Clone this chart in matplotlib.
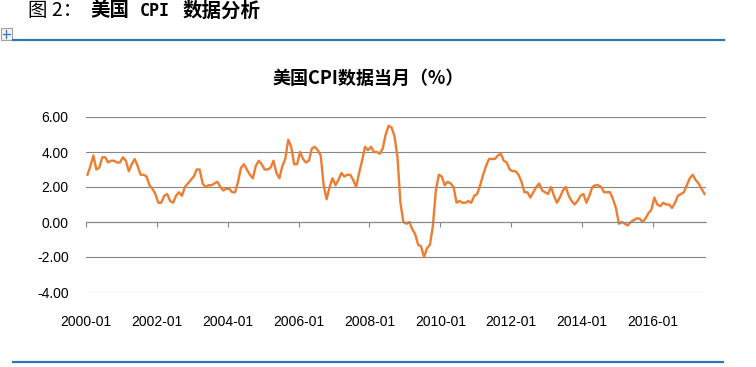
import matplotlib
matplotlib.use('Agg')
import matplotlib.pyplot as plt
from matplotlib.lines import Line2D
from matplotlib.patches import Rectangle
from matplotlib.ticker import FormatStrFormatter
import numpy as np

# US CPI, year over year (%), monthly 2000-01 .. 2017-06
cpi_2000 = [2.7, 3.2, 3.8, 3.0, 3.1, 3.7, 3.7, 3.4, 3.5, 3.5, 3.4, 3.4]
cpi_2001 = [3.7, 3.5, 2.9, 3.3, 3.6, 3.2, 2.7, 2.7, 2.6, 2.1, 1.9, 1.6]
cpi_2002 = [1.1, 1.1, 1.5, 1.6, 1.2, 1.1, 1.5, 1.7, 1.5, 2.0, 2.2, 2.4]
cpi_2003 = [2.6, 3.0, 3.0, 2.2, 2.0, 2.1, 2.1, 2.2, 2.3, 2.0, 1.8, 1.9]
cpi_2004 = [1.9, 1.7, 1.7, 2.3, 3.1, 3.3, 3.0, 2.7, 2.5, 3.2, 3.5, 3.3]
cpi_2005 = [3.0, 3.0, 3.1, 3.5, 2.8, 2.5, 3.2, 3.6, 4.7, 4.3, 3.3, 3.3]
cpi_2006 = [4.0, 3.6, 3.4, 3.5, 4.2, 4.3, 4.1, 3.8, 2.1, 1.3, 2.0, 2.5]
cpi_2007 = [2.1, 2.4, 2.8, 2.6, 2.7, 2.7, 2.4, 2.0, 2.8, 3.5, 4.3, 4.1]
cpi_2008 = [4.3, 4.0, 4.0, 3.9, 4.2, 5.0, 5.5, 5.4, 4.9, 3.7, 1.1, 0.0]
cpi_2009 = [-0.1, 0.0, -0.4, -0.7, -1.3, -1.4, -2.0, -1.5, -1.3, -0.2, 1.8, 2.7]
cpi_2010 = [2.6, 2.1, 2.3, 2.2, 2.0, 1.1, 1.2, 1.1, 1.1, 1.2, 1.1, 1.5]
cpi_2011 = [1.6, 2.1, 2.7, 3.2, 3.6, 3.6, 3.6, 3.8, 3.9, 3.5, 3.4, 3.0]
cpi_2012 = [2.9, 2.9, 2.7, 2.3, 1.7, 1.7, 1.4, 1.7, 2.0, 2.2, 1.8, 1.7]
cpi_2013 = [1.6, 2.0, 1.5, 1.1, 1.4, 1.8, 2.0, 1.5, 1.2, 1.0, 1.2, 1.5]
cpi_2014 = [1.6, 1.1, 1.5, 2.0, 2.1, 2.1, 2.0, 1.7, 1.7, 1.7, 1.3, 0.8]
cpi_2015 = [-0.1, 0.0, -0.1, -0.2, 0.0, 0.1, 0.2, 0.2, 0.0, 0.2, 0.5, 0.7]
cpi_2016 = [1.4, 1.0, 0.9, 1.1, 1.0, 1.0, 0.8, 1.1, 1.5, 1.6, 1.7, 2.1]
cpi_2017 = [2.5, 2.7, 2.4, 2.2, 1.9, 1.6]

cpi = (cpi_2000 + cpi_2001 + cpi_2002 + cpi_2003 + cpi_2004 + cpi_2005 +
       cpi_2006 + cpi_2007 + cpi_2008 + cpi_2009 + cpi_2010 + cpi_2011 +
       cpi_2012 + cpi_2013 + cpi_2014 + cpi_2015 + cpi_2016 + cpi_2017)
months = ['%d-%02d' % (2000 + i // 12, i % 12 + 1) for i in range(len(cpi))]

tick_labels = ['2000-01', '2002-01', '2004-01', '2006-01', '2008-01',
               '2010-01', '2012-01', '2014-01', '2016-01']
y_ticks = [-4, -2, 0, 2, 4, 6]

chart_title = '美国CPI数据当月（%）'

W, H = 756, 367
cjk = ['Noto Sans CJK SC', 'DejaVu Sans']
blue = '#2E75B6'
orange = '#ED7D31'
grey = '#868686'

plt.rcParams['font.family'] = ['Liberation Sans', 'DejaVu Sans']

fig = plt.figure(figsize=(W / 100, H / 100), dpi=100)

def fx(px):
    return px / W

def fy(py):
    return 1 - py / H

# page header: "图 2：美国 CPI 数据分析" (pieces placed to mimic the wide latin font)
fig.text(fx(28), fy(11), '图 2：', family=cjk, fontsize=14, va='center', ha='left')
fig.text(fx(90), fy(11), '美国', family=cjk, fontsize=14, weight='bold',
         va='center', ha='left')
fig.text(fx(140), fy(11.5), 'CPI', family='DejaVu Sans Mono', fontsize=12,
         weight='bold', va='center', ha='left')
fig.text(fx(183), fy(11), '数据分析', family=cjk, fontsize=14, weight='bold',
         va='center', ha='left')
fig.add_artist(Line2D([fx(13), fx(724)], [fy(40), fy(40)], color=blue, lw=1.6))
fig.add_artist(Line2D([fx(13), fx(723)], [fy(362), fy(362)], color=blue, lw=1.6))

# little move handle at top left
fig.add_artist(Rectangle((fx(0.5), fy(40)), fx(11), 12 / H, facecolor='#f4f4f4',
                         edgecolor='#a0a0a0', lw=0.8))
fig.add_artist(Line2D([fx(2.5), fx(10)], [fy(34), fy(34)], color='#3a6fc4', lw=0.9))
fig.add_artist(Line2D([fx(6.2), fx(6.2)], [fy(30), fy(38)], color='#3a6fc4', lw=0.9))

fig.text(fx(368), fy(78), chart_title, family=cjk, fontsize=13, weight='bold',
         ha='center', va='center')

ax = fig.add_axes([fx(86), fy(292), fx(620), 175 / H])
x = np.arange(len(cpi))
ax.plot(x, cpi, color=orange, lw=1.7, solid_joinstyle='round')

ax.set_xlim(-0.5, len(cpi) - 0.5)
ax.set_ylim(-4, 6)
ax.set_yticks(y_ticks)
ax.yaxis.set_major_formatter(FormatStrFormatter('%.2f'))
ax.set_xticks([months.index(t) - 0.5 for t in tick_labels])
ax.set_xticklabels(tick_labels)

for s in ['left', 'right', 'top']:
    ax.spines[s].set_visible(False)
ax.spines['bottom'].set_position(('data', 0))
ax.spines['bottom'].set_color(grey)
ax.spines['bottom'].set_linewidth(0.8)
ax.yaxis.grid(True, color=grey, lw=0.8)
ax.set_axisbelow(True)

ax.tick_params(axis='y', length=0, pad=12.5, labelsize=10)
ax.tick_params(axis='x', direction='out', length=3.6, width=0.8, color=grey,
               pad=63, labelsize=10)

fig.savefig('out.png', dpi=100)
